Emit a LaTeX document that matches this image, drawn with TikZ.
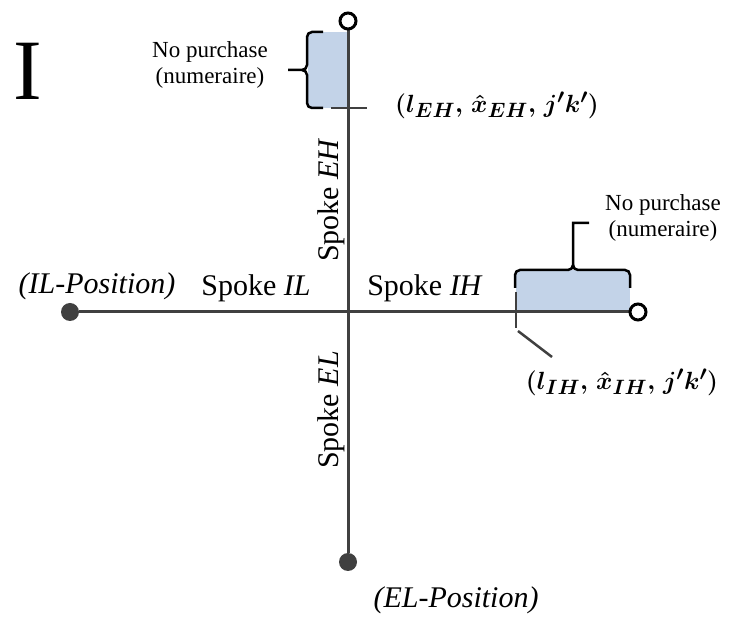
\documentclass[tikz,border=0pt]{standalone}
\usepackage{fontspec}
\setmainfont{Liberation Serif}
\definecolor{axis}{HTML}{404040}
\definecolor{fillb}{HTML}{C3D3E8}
\begin{document}
\begin{tikzpicture}[x=1pt,y=-1pt,
  axisline/.style={draw=axis,line width=3pt},
  dot/.style={circle,fill=axis,inner sep=0pt,minimum size=18pt},
  opendot/.style={circle,draw=black,line width=3pt,fill=white,inner sep=0pt,minimum size=16pt},
  bracepath/.style={draw=black,line width=2.5pt},
  small/.style={font=\fontsize{23}{26}\selectfont,align=center},
  spoke/.style={font=\fontsize{30}{34}\selectfont},
  mlab/.style={font=\fontsize{32}{36}\selectfont\boldmath,inner sep=0pt},
  tickline/.style={draw=axis,line width=2.5pt}]
\path[use as bounding box] (0,0) rectangle (729,617);
% shaded regions
\fill[fillb] (308,32) rectangle (348,108);
\fill[fillb] (516,270) rectangle (630,312);
% coordinates
\coordinate (C) at (348,312);
\node[dot] (IL) at (70,312) {};
\node[dot] (EL) at (348,562) {};
\draw[axisline] (IL) -- (C);
\draw[axisline] (C) -- (EL);
\draw[axisline] (C) -- (630,312) coordinate (IHend);
\draw[axisline] (C) -- (348,30) coordinate (EHend);
\node[opendot] (IH) at (638,312) {};
\node[opendot] (EH) at (348,21) {};
% ticks
\coordinate (tEa) at (331,108); \coordinate (tEb) at (367,108);
\draw[tickline] (tEa) -- (tEb);
\coordinate (tIa) at (516,292); \coordinate (tIb) at (516,328);
\draw[tickline] (tIa) -- (tIb);
\coordinate (dIa) at (518,331); \coordinate (dIb) at (552,357);
\draw[tickline] (dIa) -- (dIb);
% braces
\draw[bracepath] (323,32) -- (312,32) to[out=180,in=90] (307,37) -- (307,65) to[out=-90,in=0] (302,70) -- (288,70);
\draw[bracepath] (302,70) to[out=0,in=90] (307,75) -- (307,103) to[out=-90,in=180] (312,108) -- (323,108);
\draw[bracepath] (515,288) -- (515,275) to[out=90,in=180] (520,270) -- (568,270) to[out=0,in=-90] (573,265) -- (573,223) -- (589,223);
\draw[bracepath] (573,265) to[out=-90,in=180] (578,270) -- (625,270) to[out=0,in=90] (630,275) -- (630,288);
% texts
\node[font=\fontsize{86}{90}\selectfont] (roman) at (28,71) {I};
\node[small] (npE) at (210,65) {No purchase\\(numeraire)};
\node[small] (npI) at (663,218) {No purchase\\(numeraire)};
\node[spoke] (sIL) at (256,288) {Spoke \textit{IL}};
\node[spoke] (sIH) at (425,288) {Spoke \textit{IH}};
\node[spoke,rotate=90] (sEH) at (331,200) {Spoke \textit{EH}};
\node[spoke,rotate=90] (sEL) at (331,410) {Spoke \textit{EL}};
\node[spoke] (pIL) at (97,286) {\textit{(IL-Position)}};
\node[spoke] (pEL) at (456,600) {\textit{(EL-Position)}};
\node[mlab] (mE) at (497,105) {$(l_{EH},\mkern2mu\hat{x}_{EH},\mkern2mu j'k')$};
\node[mlab] (mI) at (622,382) {$(l_{IH},\mkern2mu\hat{x}_{IH},\mkern2mu j'k')$};
\end{tikzpicture}
\end{document}
